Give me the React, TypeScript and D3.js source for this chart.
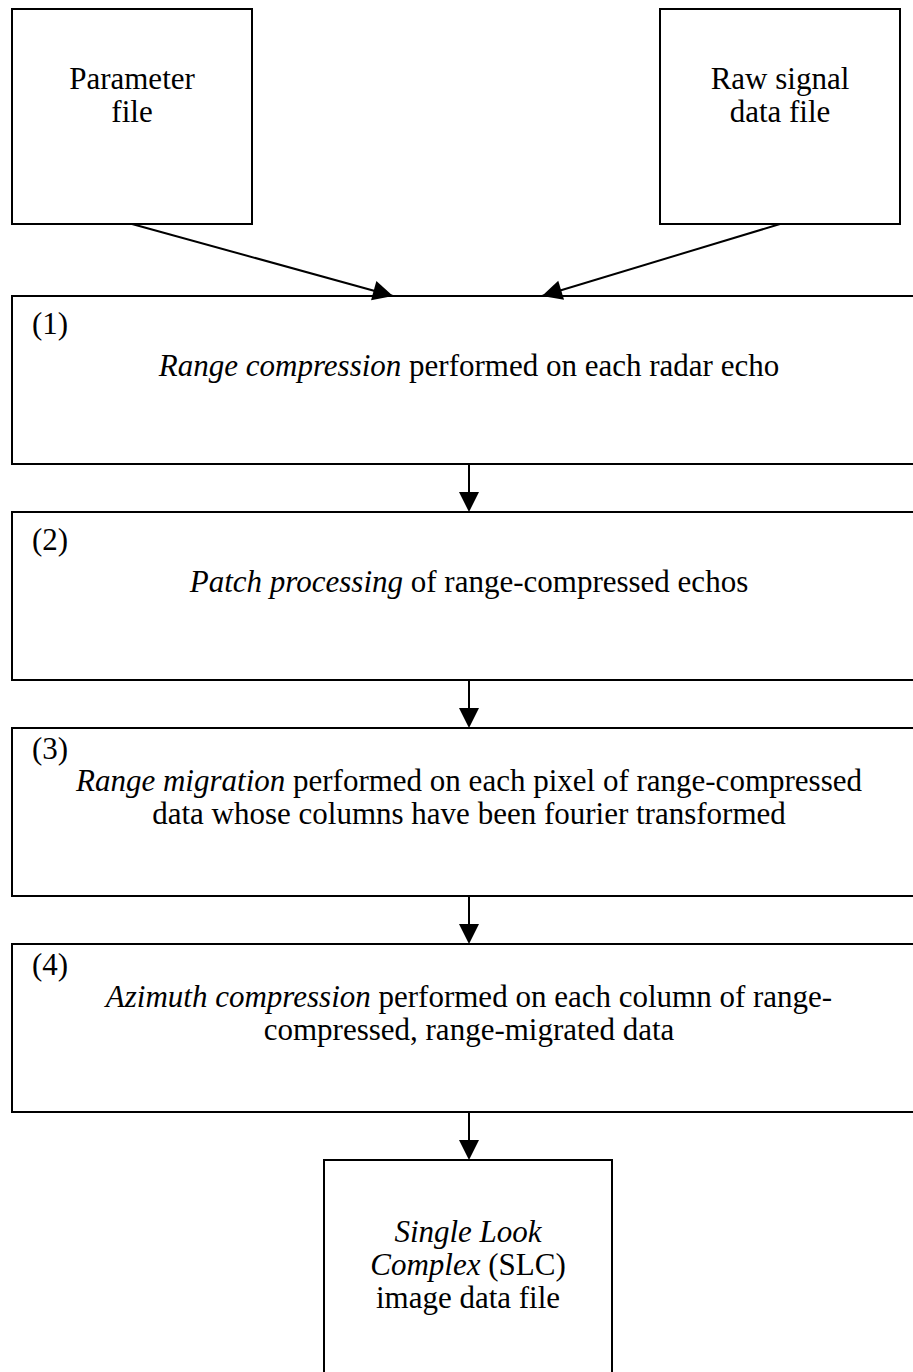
import React from "react";
import * as d3 from "d3";

type Seg = { t: string; i?: boolean };

const sourceLabels: string[][] = [
  ["Parameter", "file"],
  ["Raw signal", "data file"],
];

const stepNumbers: string[] = ["(1)", "(2)", "(3)", "(4)"];

const stepLines: Seg[][][] = [
  [[{ t: "Range compression", i: true }, { t: " performed on each radar echo" }]],
  [[{ t: "Patch processing", i: true }, { t: " of range-compressed echos" }]],
  [
    [{ t: "Range migration", i: true }, { t: " performed on each pixel of range-compressed" }],
    [{ t: "data whose columns have been fourier transformed" }],
  ],
  [
    [{ t: "Azimuth compression", i: true }, { t: " performed on each column of range-" }],
    [{ t: "compressed, range-migrated data" }],
  ],
];

const outputLines: Seg[][] = [
  [{ t: "Single Look", i: true }],
  [{ t: "Complex", i: true }, { t: " (SLC)" }],
  [{ t: "image data file" }],
];

const W = 913;
const H = 1372;
const FONT = "'Liberation Serif', 'Times New Roman', serif";
const FS = 31;
const LH = 33;

export default function App() {
  const stepY = d3.scaleLinear().domain([0, 1]).range([296, 512]);
  const boxH = 168;
  const srcBoxes = [
    { x: 12, y: 9, w: 240, h: 215 },
    { x: 660, y: 9, w: 240, h: 215 },
  ];
  const outBox = { x: 324, y: 1160, w: 288, h: 260 };
  const cx = 469;
  const srcTargets = [393, 542];

  const renderSegs = (segs: Seg[]) =>
    segs.map((s, k) => (
      <tspan key={k} fontStyle={s.i ? "italic" : "normal"}>
        {s.t}
      </tspan>
    ));

  const arrowHead = (x: number, y: number, angle: number, key: string) => {
    const len = 20;
    const half = 10;
    const bx = x - len * Math.cos(angle);
    const by = y - len * Math.sin(angle);
    const px = -Math.sin(angle) * half;
    const py = Math.cos(angle) * half;
    const path = d3.path();
    path.moveTo(x, y);
    path.lineTo(bx + px, by + py);
    path.lineTo(bx - px, by - py);
    path.closePath();
    return <path key={key} d={path.toString()} fill="#000" />;
  };

  return (
    <svg
      width={W}
      height={H}
      viewBox={`0 0 ${W} ${H}`}
      style={{ position: "absolute", left: 0, top: 0, background: "#fff" }}
    >
      <rect x={0} y={0} width={W} height={H} fill="#fff" />
      {srcBoxes.map((b, i) => (
        <g key={"src" + i}>
          <rect x={b.x} y={b.y} width={b.w} height={b.h} fill="none" stroke="#000" strokeWidth={2} />
          {sourceLabels[i].map((ln, j) => (
            <text
              key={j}
              x={b.x + b.w / 2}
              y={89 + j * LH}
              textAnchor="middle"
              fontFamily={FONT}
              fontSize={FS}
            >
              {ln}
            </text>
          ))}
          <line
            x1={b.x + b.w / 2}
            y1={b.y + b.h}
            x2={srcTargets[i]}
            y2={296}
            stroke="#000"
            strokeWidth={2}
          />
          {arrowHead(
            srcTargets[i],
            296,
            Math.atan2(296 - (b.y + b.h), srcTargets[i] - (b.x + b.w / 2)),
            "ah" + i
          )}
        </g>
      ))}
      {stepNumbers.map((num, i) => {
        const y = stepY(i);
        const lines = stepLines[i];
        const single = lines.length === 1;
        const numY = y + (single ? 38 : 31);
        const firstY = y + (single ? 80 : 63);
        return (
          <g key={"step" + i}>
            <path
              d={`M${W + 5},${y} H12 V${y + boxH} H${W + 5}`}
              fill="none"
              stroke="#000"
              strokeWidth={2}
            />
            <text x={32} y={numY} fontFamily={FONT} fontSize={FS}>
              {num}
            </text>
            {lines.map((ln, j) => (
              <text
                key={j}
                x={cx}
                y={firstY + j * LH}
                textAnchor="middle"
                fontFamily={FONT}
                fontSize={FS}
              >
                {renderSegs(ln)}
              </text>
            ))}
            <line
              x1={cx}
              y1={y + boxH}
              x2={cx}
              y2={y + 216 - 18}
              stroke="#000"
              strokeWidth={2}
            />
            {arrowHead(cx, y + 216, Math.PI / 2, "va" + i)}
          </g>
        );
      })}
      <path
        d={`M${outBox.x},${H + 5} V${outBox.y} H${outBox.x + outBox.w} V${H + 5}`}
        fill="none"
        stroke="#000"
        strokeWidth={2}
      />
      {outputLines.map((ln, j) => (
        <text
          key={j}
          x={outBox.x + outBox.w / 2}
          y={1242 + j * LH}
          textAnchor="middle"
          fontFamily={FONT}
          fontSize={FS}
        >
          {renderSegs(ln)}
        </text>
      ))}
    </svg>
  );
}
